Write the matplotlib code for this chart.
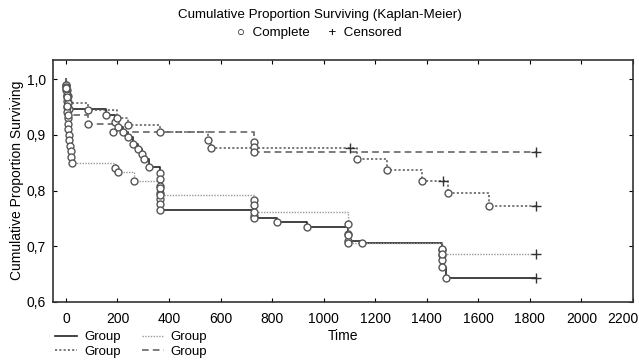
import matplotlib
matplotlib.use('Agg')
import matplotlib.pyplot as plt
import matplotlib.transforms as mtransforms
import numpy as np

plt.rcParams['font.family'] = ['Liberation Sans', 'DejaVu Sans']

# group A (solid)
a_time = [0, 2, 4, 7, 10, 14, 156, 191, 203, 222, 242, 261, 280, 296, 303, 323,
          365, 365, 365, 365, 365, 365, 365, 730, 730, 818, 934, 1095, 1095, 1148,
          1460, 1460, 1460, 1460, 1473]
a_surv = [1.0, 0.99, 0.98, 0.97, 0.958, 0.946, 0.936, 0.923, 0.914, 0.905, 0.896,
          0.884, 0.875, 0.866, 0.857, 0.842, 0.832, 0.82, 0.808, 0.796, 0.784,
          0.776, 0.765, 0.755, 0.75, 0.743, 0.734, 0.722, 0.71, 0.705,
          0.693, 0.684, 0.675, 0.662, 0.643]
a_cens = [1825]

# group B (fine dotted)
b_time = [0, 1, 2, 3, 4, 5, 6, 7, 8, 10, 12, 14, 16, 18, 20, 22,
          192, 203, 265, 365, 365, 730, 730, 730, 1095, 1095, 1095, 1460, 1460]
b_surv = [1.0, 0.99, 0.98, 0.97, 0.96, 0.95, 0.94, 0.93, 0.92, 0.91, 0.90, 0.89,
          0.88, 0.87, 0.86, 0.85, 0.84, 0.833, 0.817, 0.805, 0.792, 0.783, 0.774,
          0.761, 0.74, 0.72, 0.705, 0.695, 0.686]
b_cens = [1825]

# group C (coarse dotted)
c_time = [0, 1, 3, 8, 87, 200, 242, 365, 552, 563, 1128, 1244, 1380, 1484, 1643]
c_surv = [1.0, 0.985, 0.971, 0.957, 0.945, 0.93, 0.918, 0.905, 0.891, 0.877,
          0.857, 0.837, 0.817, 0.795, 0.772]
c_cens = [1101, 1461, 1825]

# group D (dashed)
d_time = [0, 1, 3, 5, 10, 87, 184, 730, 730, 730]
d_surv = [1.0, 0.984, 0.968, 0.952, 0.936, 0.92, 0.905, 0.887, 0.878, 0.869]
d_cens = [1825]

legend_labels = ['Group', 'Group', 'Group', 'Group']
y_ticks = [0.6, 0.7, 0.8, 0.9, 1.0]
x_ticks = [0, 200, 400, 600, 800, 1000, 1200, 1400, 1600, 1800, 2000, 2200]

groups = [
    (a_time, a_surv, a_cens, dict(color='#222222', lw=1.2, ls='-')),
    (b_time, b_surv, b_cens, dict(color='#999999', lw=1.0, ls=(0, (1, 1)))),
    (c_time, c_surv, c_cens, dict(color='#555555', lw=1.1, ls=(0, (1.4, 1.4)))),
    (d_time, d_surv, d_cens, dict(color='#666666', lw=1.2, ls=(0, (4, 2.5)))),
]

fig = plt.figure(figsize=(6.39, 3.63), dpi=100)
ax = fig.add_axes([53 / 639, 1 - 302 / 363, 580 / 639, (302 - 59.5) / 363])

handles = []
for t, s, cens, style in groups:
    t = np.array(t, float)
    s = np.array(s, float)
    tx = np.append(t, max(cens))
    sx = np.append(s, s[-1])
    ln, = ax.step(tx, sx, where='post', zorder=2, **style)
    handles.append(ln)
    ax.plot(t[1:], s[1:], 'o', ms=5, mfc='white', mec='#555555', mew=1.0, zorder=3)
    idx = np.searchsorted(t, cens, side='right') - 1
    ax.plot(cens, s[idx], '+', ms=7, color='#333333', mew=1.0, zorder=3)

ax.set_xlim(-50, 2200)
ax.set_ylim(0.6, 1.035)
ax.set_xticks(x_ticks)
ax.set_yticks(y_ticks)
ax.set_yticklabels([f'{v:.1f}'.replace('.', ',') for v in y_ticks])
ax.tick_params(direction='in', top=True, right=True, length=3, labelsize=10,
               labeltop=False, labelright=False)
ax.tick_params(axis='x', pad=7)
ax.tick_params(axis='y', pad=5)
# last x label is pulled inside the figure, as in the original
last = ax.get_xticklabels()[-1]
last.set_transform(last.get_transform() +
                   mtransforms.ScaledTranslation(-10 / 100, 0, fig.dpi_scale_trans))
for sp in ax.spines.values():
    sp.set_linewidth(1.2)
    sp.set_color('#333333')
ax.set_xlabel('Time', fontsize=10, labelpad=2)
ax.set_ylabel('Cumulative Proportion Surviving', fontsize=10, labelpad=2)

fig.text(0.5, 1 - 15 / 363, 'Cumulative Proportion Surviving (Kaplan-Meier)',
         ha='center', va='center', fontsize=9.6)
fig.text(0.5, 1 - 33 / 363, '\u25cb  Complete     +  Censored',
         ha='center', va='center', fontsize=9.6)

order = [0, 2, 1, 3]
fig.legend([handles[i] for i in order], [legend_labels[i] for i in order],
           ncol=2, loc='upper left', bbox_to_anchor=(55 / 639, 1 - 331 / 363),
           frameon=False, fontsize=9.5, handlelength=1.7, handletextpad=0.5,
           columnspacing=1.6, labelspacing=0.2, borderpad=0, borderaxespad=0)

fig.savefig('out.png', dpi=100)
